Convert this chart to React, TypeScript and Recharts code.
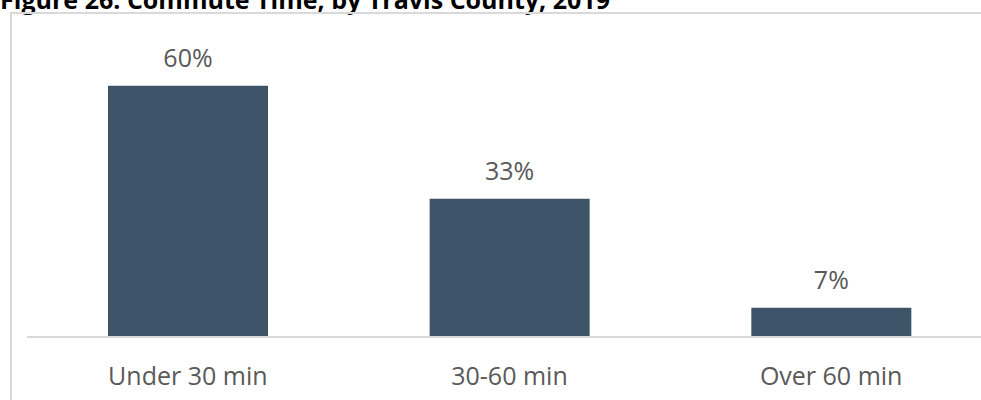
import { BarChart, Bar, XAxis, YAxis, LabelList } from "recharts";

const categories = ["Under 30 min", "30-60 min", "Over 60 min"];
const shares = [60, 33, 7];

const data = categories.map((name, i) => ({ name, share: shares[i] }));

const font = "'Open Sans', sans-serif";

export default function App() {
  return (
    <div
      style={{
        position: "fixed",
        left: 0,
        top: 0,
        width: 981,
        height: 400,
        overflow: "hidden",
        background: "#fff",
        fontFamily: font,
      }}
    >
      <svg
        width={981}
        height={20}
        style={{ position: "absolute", left: 0, top: 0 }}
      >
        <text
          x={0}
          y={8.5}
          fontSize={25}
          fontWeight={700}
          fill="#000"
          fontFamily={font}
          textLength={610}
          lengthAdjust="spacingAndGlyphs"
        >
          Figure 26: Commute Time, by Travis County, 2019
        </text>
      </svg>
      <div
        style={{
          position: "absolute",
          left: 10,
          top: 12,
          width: 1000,
          height: 400,
          borderLeft: "2px solid #d9d9d9",
          borderTop: "2px solid #d9d9d9",
        }}
      />
      <div style={{ position: "absolute", left: 0, top: 0 }}>
        <BarChart
          width={1000}
          height={400}
          data={data}
          margin={{ top: 44, right: 8, left: 27, bottom: 8 }}
        >
          <YAxis hide domain={[0, 70]} />
          <XAxis
            dataKey="name"
            height={55}
            tickLine={false}
            tickSize={0}
            tickMargin={30}
            axisLine={{ stroke: "#d9d9d9", strokeWidth: 2 }}
            tick={{ fill: "#595959", fontSize: 25, fontFamily: font }}
          />
          <Bar dataKey="share" fill="#3e5569" barSize={160} isAnimationActive={false}>
            <LabelList
              dataKey="share"
              position="top"
              offset={19}
              formatter={(v: number) => `${v}%`}
              style={{ fill: "#595959", fontSize: 25, fontFamily: font }}
            />
          </Bar>
        </BarChart>
      </div>
    </div>
  );
}
